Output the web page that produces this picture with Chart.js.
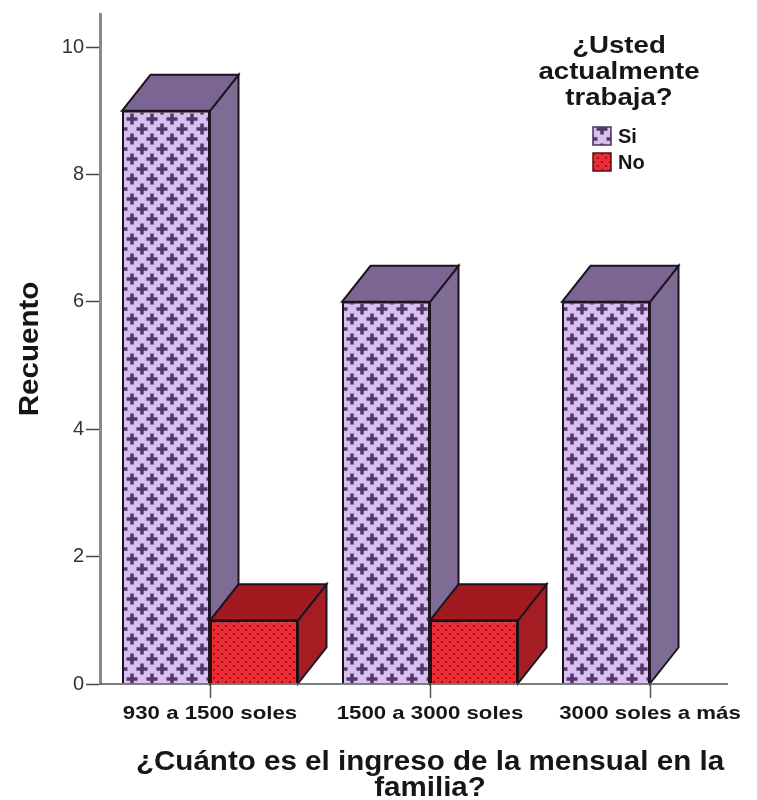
<!DOCTYPE html>
<html><head><meta charset="utf-8">
<style>html,body{margin:0;padding:0;background:#fff;overflow:hidden}canvas{display:block}</style>
<script src="https://cdn.jsdelivr.net/npm/chart.js@4"></script></head>
<body><canvas id="c" width="760" height="800"></canvas>
<script>
const categories = ['930 a 1500 soles', '1500 a 3000 soles', '3000 soles a más'];
const siValues = [9, 6, 6];
const noValues = [1, 1, null];
const seriesNames = ['Si', 'No'];
const legendTitle = ['¿Usted', 'actualmente', 'trabaja?'];
const xTitle = ['¿Cuánto es el ingreso de la mensual en la', 'familia?'];
const yTitle = 'Recuento';
const yTicks = [0, 2, 4, 6, 8, 10];

const FONT = '"Liberation Sans", Arial, sans-serif';
const INK = '#1c1420';
const depthX = 28.5, depthY = -36;
// the reference text is set wider than the installed font: horizontal stretch per font size
const stretch = { 19: 1.17, 24: 1.15, 27: 1.095 };

const canvas = document.getElementById('c');
const baseCtx = canvas.getContext('2d');
const rawFill = baseCtx.fillText.bind(baseCtx);
baseCtx.fillText = function (text, x, y) {
  const size = parseInt((baseCtx.font.match(/(\d+)px/) || [])[1], 10);
  baseCtx.save();
  baseCtx.translate(x, y);
  baseCtx.scale(stretch[size] || 1, 1);
  rawFill(text, 0, 0);
  baseCtx.restore();
};

function tile(size, bg, paint) {
  const t = document.createElement('canvas');
  t.width = t.height = size;
  const g = t.getContext('2d');
  g.fillStyle = bg; g.fillRect(0, 0, size, size);
  paint(g);
  return baseCtx.createPattern(t, 'repeat');
}
const siPattern = tile(20, '#d8c0ee', g => {
  g.fillStyle = '#55376f';
  for (const [cx, cy] of [[2, 9], [22, 9], [12, 19], [12, -1]]) {
    g.fillRect(cx - 5.5, cy - 1.75, 11, 3.5);
    g.fillRect(cx - 1.75, cy - 5.5, 3.5, 11);
  }
});
const noPattern = tile(8, '#ee2b34', g => {
  g.fillStyle = '#8f1820';
  g.fillRect(1, 1, 2, 2);
  g.fillRect(5, 5, 2, 2);
});
const faces = [
  { top: '#7c6592', side: '#7f6c95' },
  { top: '#a01a1f', side: '#a41d22' }
];

const depthFaces = {
  id: 'depthFaces',
  beforeDatasetsDraw(chart) {
    const ctx = chart.ctx;
    ctx.save();
    ctx.lineWidth = 2; ctx.strokeStyle = INK; ctx.lineJoin = 'miter';
    chart.data.datasets.forEach((ds, i) => {
      chart.getDatasetMeta(i).data.forEach((b, k) => {
        if (ds.data[k] == null) return;
        const p = b.getProps(['x', 'y', 'base', 'width'], true);
        const l = p.x - p.width / 2, r = p.x + p.width / 2;
        ctx.fillStyle = faces[i].side;
        ctx.beginPath();
        ctx.moveTo(r, p.y); ctx.lineTo(r + depthX, p.y + depthY);
        ctx.lineTo(r + depthX, p.base + depthY); ctx.lineTo(r, p.base);
        ctx.closePath(); ctx.fill(); ctx.stroke();
        ctx.fillStyle = faces[i].top;
        ctx.beginPath();
        ctx.moveTo(l, p.y); ctx.lineTo(l + depthX, p.y + depthY);
        ctx.lineTo(r + depthX, p.y + depthY); ctx.lineTo(r, p.y);
        ctx.closePath(); ctx.fill(); ctx.stroke();
      });
    });
    ctx.restore();
  },
  afterDraw(chart) {
    const ctx = chart.ctx, a = chart.chartArea, y0 = chart.scales.y.getPixelForValue(0);
    ctx.save();
    ctx.strokeStyle = '#555'; ctx.lineWidth = 1.5;
    ctx.beginPath(); ctx.moveTo(a.left, y0); ctx.lineTo(728, y0); ctx.stroke();
    ctx.fillStyle = '#161616'; ctx.textAlign = 'center'; ctx.textBaseline = 'middle';
    ctx.font = 'bold 24px ' + FONT;
    legendTitle.forEach((t, i) => ctx.fillText(t, 619, 46 + i * 26));
    [siPattern, noPattern].forEach((pat, i) => {
      const y = 127 + i * 26;
      ctx.fillStyle = pat; ctx.fillRect(593, y, 18, 18);
      ctx.strokeStyle = i ? '#5a1015' : '#4a3560'; ctx.lineWidth = 1.5; ctx.strokeRect(593, y, 18, 18);
      ctx.fillStyle = '#161616'; ctx.textAlign = 'left';
      ctx.font = 'bold 20px ' + FONT;
      ctx.fillText(seriesNames[i], 618, y + 10);
    });
    ctx.restore();
  }
};

new Chart(canvas, {
  type: 'bar',
  data: {
    labels: categories,
    datasets: [
      { label: seriesNames[0], data: siValues, backgroundColor: siPattern, borderColor: INK, borderWidth: 2, categoryPercentage: 0.8, barPercentage: 1 },
      { label: seriesNames[1], data: noValues, backgroundColor: noPattern, borderColor: '#2a0a0c', borderWidth: 2, categoryPercentage: 0.8, barPercentage: 1 }
    ]
  },
  options: {
    responsive: false, animation: false,
    layout: { padding: { top: 11, right: 0, left: 0, bottom: 0 } },
    plugins: { legend: { display: false }, tooltip: { enabled: false }, title: { display: false } },
    scales: {
      x: {
        afterFit(s) { s.height = 116; },
        grid: { display: true, drawOnChartArea: false, drawTicks: true, offset: false, tickLength: 14, color: '#555', tickWidth: 1.5 },
        border: { display: false },
        ticks: { maxRotation: 0, autoSkip: false, color: '#161616', padding: 4, font: { family: FONT, weight: 'bold', size: 19 } },
        title: { display: true, text: xTitle, color: '#161616', font: { family: FONT, weight: 'bold', size: 27, lineHeight: 0.97 }, padding: { top: 0, bottom: -2 } }
      },
      y: {
        min: 0, max: 10.52,
        afterFit(s) { s.width = 100; },
        afterBuildTicks(s) { s.ticks = yTicks.map(v => ({ value: v })); },
        grid: { display: true, drawOnChartArea: false, tickLength: 14, color: '#444', tickWidth: 1.5 },
        border: { display: true, color: '#8a8a8a', width: 3 },
        ticks: { color: '#333', padding: 2, font: { family: FONT, size: 20 } },
        title: { display: true, text: yTitle, color: '#161616', font: { family: FONT, weight: 'bold', size: 27 }, padding: { top: 14, bottom: 0 } }
      }
    }
  },
  plugins: [depthFaces]
});
</script></body></html>
